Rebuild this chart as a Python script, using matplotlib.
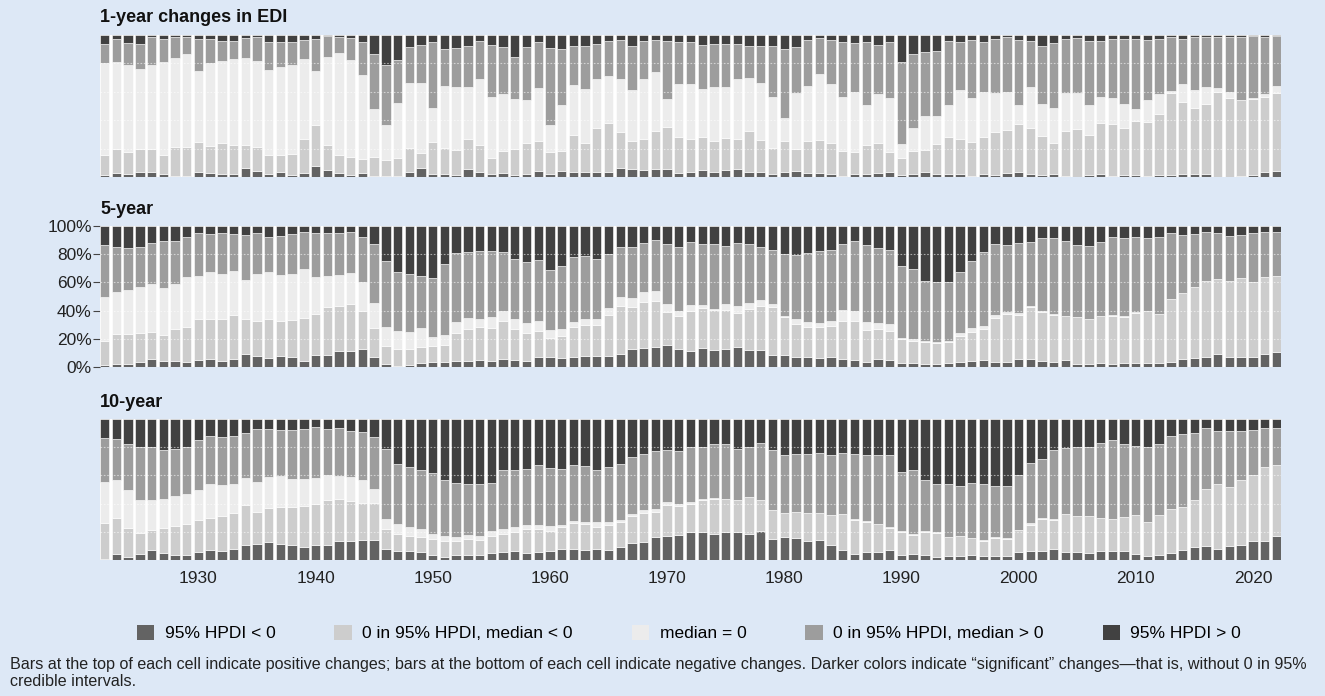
import numpy as np
import matplotlib
matplotlib.use("Agg")
import matplotlib.pyplot as plt
import matplotlib.patches as mpatches

plt.rcParams['font.family'] = ['Liberation Sans', 'DejaVu Sans']

years = np.arange(1922, 2023)
categories = ["95% HPDI < 0", "0 in 95% HPDI, median < 0", "median = 0",
              "0 in 95% HPDI, median > 0", "95% HPDI > 0"]
colors = ["#636363", "#cdcdcd", "#ececec", "#9d9d9d", "#414141"]
panel_titles = ["1-year changes in EDI", "5-year", "10-year"]
ytick_labels = ["0%", "20%", "40%", "60%", "80%", "100%"]
footnote_lines = ["Bars at the top of each cell indicate positive changes; bars at the bottom of each cell "
                  "indicate negative changes. Darker colors indicate \u201csignificant\u201d changes\u2014that is, "
                  "without 0 in 95%",
                  "credible intervals."]

# Upper edges (in %) of each stacked class, per year 1922-2022
# ---- 1-year ----
y1_top_sig_neg = [1.4, 2.6, 2.1, 3.3, 3.3, 2.1, 0.9, 0.9, 3.3, 2.6, 2.1, 2.1, 6.1, 4.2, 2.1, 3.3, 1.4, 3.1, 7.7, 4.9, 2.6, 1.4, 2.6, 0.7, 0.7,
                  0.9, 3.3, 6.1, 2.1, 2.1, 1.4, 5.4, 3.3, 2.1, 2.6, 1.4, 2.1, 4.2, 2.1, 4.2, 3.3, 3.3, 3.8, 3.8, 6.6, 5.4, 4.9, 5.4, 5.4, 2.6,
                  3.3, 4.9, 3.8, 4.9, 5.6, 3.3, 3.8, 1.9, 3.3, 4.2, 2.6, 2.6, 1.9, 0.9, 1.9, 1.9, 2.6, 3.3, 1.4, 2.1, 3.8, 1.9, 2.1, 2.1, 0.9,
                  1.9, 1.4, 2.6, 3.3, 1.9, 1.4, 1.9, 0.9, 0.0, 1.4, 2.1, 0.9, 1.4, 1.4, 0.9, 1.4, 1.4, 1.9, 1.9, 1.9, 0.0, 0.0, 0.9, 1.4, 3.3, 4.5]
y1_top_neg = [15.5, 19.7, 17.8, 19.7, 19.5, 15.5, 21.4, 21.4, 24.4, 21.8, 24.2, 22.5, 22.5, 20.9, 15.5, 15.5, 16.2, 26.8, 36.6, 22.5, 15.5, 14.3, 12.7, 13.8, 12.0,
              13.1, 20.7, 17.1, 24.9, 20.2, 19.0, 26.8, 22.5, 13.6, 18.5, 20.0, 24.2, 25.4, 17.8, 18.5, 29.6, 24.2, 34.7, 37.8, 31.9, 25.6, 27.0, 32.6, 35.4, 27.9,
              26.5, 28.4, 25.6, 27.7, 26.5, 32.4, 26.1, 20.7, 25.4, 19.5, 25.6, 26.1, 23.7, 18.5, 17.4, 22.5, 23.7, 17.8, 13.6, 18.5, 19.0, 23.0, 28.4, 26.8, 24.4,
              27.9, 31.9, 33.1, 37.3, 34.3, 28.9, 23.7, 32.6, 33.6, 29.6, 38.3, 37.3, 34.7, 39.4, 38.5, 44.4, 58.9, 53.1, 48.4, 51.4, 60.1, 55.4, 54.2, 54.7, 56.6, 59.4]
y1_top_zero = [80.0, 80.8, 78.9, 75.8, 78.9, 81.2, 84.0, 86.4, 74.9, 80.5, 81.9, 83.1, 83.8, 81.9, 75.4, 77.2, 78.9, 83.1, 74.6, 84.3, 87.1, 82.4, 71.8, 47.9, 36.6,
               52.3, 66.0, 66.0, 48.8, 64.3, 63.6, 63.1, 69.0, 56.6, 58.2, 54.9, 54.2, 62.4, 36.6, 50.7, 64.8, 62.0, 69.0, 71.1, 69.0, 61.3, 69.0, 73.7, 54.9, 65.3,
               65.5, 61.7, 63.6, 63.1, 69.0, 69.5, 66.4, 56.6, 41.3, 59.4, 64.3, 72.3, 65.5, 56.6, 59.6, 50.7, 58.2, 55.4, 23.2, 34.7, 43.2, 43.0, 50.7, 61.3, 55.4,
               59.6, 58.9, 60.1, 50.7, 63.6, 51.4, 48.4, 59.4, 58.9, 50.7, 56.1, 55.4, 51.4, 47.7, 54.2, 58.2, 60.6, 65.5, 61.3, 63.6, 62.4, 59.6, 54.2, 55.9, 58.5, 64.1]
y1_top_pos = [93.7, 96.9, 94.1, 93.7, 98.4, 96.9, 98.8, 98.8, 96.9, 96.9, 95.8, 95.8, 97.7, 98.4, 95.3, 95.3, 95.3, 96.5, 96.9, 99.5, 98.8, 97.7, 94.8, 86.4, 78.9,
              82.4, 91.8, 93.0, 95.3, 89.9, 90.6, 92.3, 96.0, 93.0, 91.8, 84.7, 91.3, 95.3, 90.6, 89.9, 92.3, 92.3, 93.4, 95.8, 96.5, 92.5, 95.8, 96.5, 95.8, 95.3,
              95.3, 93.0, 93.7, 93.7, 93.7, 92.3, 92.3, 92.3, 90.1, 91.3, 96.5, 98.1, 96.5, 94.8, 94.6, 95.3, 93.0, 95.3, 80.8, 86.4, 88.3, 89.0, 95.8, 94.8, 96.5,
              94.8, 96.9, 98.4, 96.5, 95.8, 92.5, 94.6, 96.9, 97.7, 95.8, 95.8, 96.9, 96.9, 97.2, 96.5, 96.9, 98.8, 96.9, 98.8, 98.8, 98.4, 98.8, 98.8, 99.3, 98.8, 99.3]

# ---- 5-year ----
y5_top_sig_neg = [1.4, 1.9, 1.9, 3.3, 5.4, 4.5, 4.5, 3.8, 5.0, 5.7, 4.5, 5.7, 9.2, 7.8, 6.6, 7.8, 7.1, 4.5, 8.7, 8.7, 11.6, 11.6, 12.5, 6.9, 2.1,
                  0.7, 1.4, 2.6, 3.3, 3.3, 4.5, 4.5, 5.0, 4.5, 5.7, 5.0, 4.5, 7.3, 6.9, 6.1, 6.9, 8.0, 8.0, 8.0, 9.2, 12.5, 13.7, 14.4, 15.6, 12.8,
                  11.3, 13.7, 12.1, 12.8, 13.9, 12.1, 12.1, 8.7, 8.7, 7.3, 6.9, 6.4, 6.9, 5.7, 5.0, 3.3, 5.7, 5.0, 2.6, 2.6, 1.9, 1.9, 2.6, 3.3, 4.5,
                  5.0, 3.8, 3.8, 5.4, 5.4, 4.3, 3.3, 5.0, 2.1, 2.1, 3.1, 2.1, 2.6, 3.1, 3.1, 3.1, 3.8, 5.4, 6.6, 7.3, 9.2, 7.3, 7.3, 7.3, 9.2, 10.4]
y5_top_neg = [18.7, 23.4, 23.2, 23.9, 25.1, 22.7, 26.7, 28.6, 34.0, 34.0, 34.0, 36.9, 33.8, 32.9, 34.0, 32.6, 33.3, 35.0, 37.4, 42.3, 43.5, 44.7, 39.7, 27.4, 15.1,
              12.5, 12.5, 14.4, 15.1, 15.6, 24.3, 27.0, 28.6, 27.9, 32.6, 26.7, 24.3, 25.5, 20.8, 22.0, 28.6, 29.6, 29.6, 36.9, 43.5, 42.3, 45.9, 47.0, 39.2, 36.4,
              40.0, 41.6, 40.4, 40.4, 38.5, 41.1, 43.3, 42.3, 35.7, 30.5, 28.1, 28.1, 29.1, 32.6, 32.6, 26.2, 27.0, 25.5, 19.6, 18.7, 17.5, 16.8, 18.0, 22.2, 25.1,
              26.7, 34.5, 37.6, 36.9, 42.8, 38.8, 36.9, 36.2, 35.2, 34.0, 36.4, 36.4, 35.7, 38.5, 40.0, 37.6, 48.0, 52.7, 57.0, 61.0, 62.4, 61.2, 63.4, 60.5, 64.1, 64.8]
y5_top_zero = [49.4, 53.4, 54.6, 57.0, 58.6, 55.8, 58.9, 63.6, 64.8, 67.6, 66.0, 68.1, 61.7, 66.0, 67.6, 65.2, 66.0, 69.5, 63.6, 64.8, 65.2, 66.9, 60.0, 45.2, 28.1,
               25.8, 24.6, 27.4, 21.5, 22.7, 31.7, 34.5, 33.8, 35.7, 40.0, 34.3, 31.0, 32.9, 26.2, 26.7, 32.2, 34.0, 34.0, 41.6, 49.9, 48.7, 53.0, 54.1, 44.4, 40.0,
               44.0, 44.0, 40.9, 44.4, 43.5, 45.2, 47.5, 44.4, 36.4, 34.0, 31.7, 31.0, 32.6, 40.4, 40.0, 32.2, 31.4, 30.5, 20.3, 19.9, 18.7, 18.0, 18.7, 23.9, 27.4,
               29.3, 36.9, 38.8, 38.5, 43.5, 39.7, 37.4, 36.2, 35.2, 34.0, 36.4, 36.9, 36.4, 38.8, 40.0, 37.6, 48.0, 52.7, 57.0, 61.0, 62.4, 61.2, 63.4, 60.5, 64.1, 64.8]
y5_top_pos = [86.5, 84.9, 84.2, 85.3, 88.2, 89.4, 89.4, 92.4, 94.8, 94.3, 95.3, 94.3, 93.6, 95.3, 92.4, 93.1, 94.3, 95.7, 94.8, 94.8, 95.3, 95.5, 92.4, 87.2, 75.2,
              67.1, 66.0, 64.8, 62.9, 72.8, 80.6, 81.8, 82.5, 82.3, 81.3, 76.4, 74.2, 75.9, 68.8, 71.6, 78.3, 79.0, 76.4, 80.1, 85.3, 85.3, 88.2, 90.1, 87.2, 85.3,
              88.9, 87.2, 87.2, 85.8, 87.7, 87.0, 84.9, 83.0, 80.1, 79.4, 81.1, 82.3, 83.0, 87.0, 89.4, 86.5, 84.2, 83.0, 71.6, 69.5, 61.0, 60.0, 60.0, 67.6, 75.4,
              81.3, 87.2, 86.5, 87.7, 88.4, 91.3, 91.3, 89.6, 86.5, 85.8, 88.4, 92.0, 91.3, 92.0, 91.3, 92.0, 94.8, 93.6, 94.3, 95.5, 94.8, 93.1, 93.6, 94.8, 95.5, 96.0]

# ---- 10-year ----
y10_top_sig_neg = [0.9, 4.3, 2.1, 4.3, 7.1, 5.0, 3.8, 3.8, 5.7, 7.3, 6.6, 7.8, 10.9, 11.6, 12.5, 11.6, 10.9, 9.2, 10.9, 10.9, 13.2, 13.7, 14.4, 14.4, 7.8,
                   6.1, 6.1, 5.4, 3.3, 1.9, 3.3, 3.8, 3.8, 5.0, 5.7, 6.6, 5.0, 5.7, 6.6, 7.8, 8.0, 7.3, 8.0, 7.3, 9.0, 12.1, 12.8, 16.3, 17.3, 18.0,
                   19.9, 19.9, 18.7, 19.6, 19.9, 18.4, 20.3, 15.1, 16.1, 15.6, 13.2, 13.9, 10.4, 7.3, 4.5, 5.4, 5.4, 6.9, 3.3, 4.3, 3.3, 1.9, 2.6, 2.6, 3.3,
                   2.6, 2.6, 2.6, 5.7, 6.6, 6.6, 7.8, 5.4, 5.4, 5.0, 6.1, 6.1, 6.1, 4.3, 3.1, 3.8, 5.0, 7.3, 9.0, 10.2, 7.8, 9.7, 10.9, 13.7, 13.7, 17.3]
y10_top_neg = [26.2, 29.8, 22.7, 19.1, 21.0, 22.7, 24.3, 25.8, 28.6, 29.8, 31.0, 33.3, 39.2, 34.0, 36.9, 37.6, 37.6, 38.1, 39.7, 42.3, 43.3, 41.6, 40.4, 40.4, 22.0,
               18.4, 17.3, 16.1, 15.1, 13.7, 13.2, 15.1, 14.4, 17.3, 18.7, 19.9, 22.0, 22.0, 20.3, 23.4, 26.2, 25.5, 23.4, 25.1, 26.7, 31.0, 33.3, 34.0, 39.2, 38.5,
               40.0, 42.8, 43.5, 43.3, 42.3, 44.7, 42.3, 35.7, 33.3, 34.0, 33.3, 33.3, 32.2, 32.6, 28.6, 27.0, 25.5, 22.7, 19.9, 18.0, 19.9, 19.1, 16.3, 17.3, 15.6,
               13.7, 15.6, 14.9, 21.0, 25.1, 29.1, 28.6, 32.6, 31.0, 31.0, 29.8, 29.1, 30.5, 32.2, 26.7, 32.2, 36.4, 37.6, 42.3, 50.6, 53.9, 51.8, 56.5, 60.5, 66.0, 67.6]
y10_top_zero = [55.3, 57.0, 49.4, 42.3, 42.3, 43.3, 45.6, 46.8, 49.9, 53.9, 53.0, 53.9, 58.2, 55.3, 58.9, 59.3, 57.4, 57.4, 58.2, 60.0, 59.8, 58.9, 57.0, 50.4, 29.1,
                25.5, 23.4, 22.2, 18.7, 16.8, 16.3, 18.0, 17.3, 20.3, 22.0, 23.4, 25.1, 25.1, 23.9, 25.1, 27.4, 26.7, 26.7, 26.7, 28.1, 32.9, 35.2, 36.2, 40.9, 40.0,
                40.9, 43.3, 44.0, 43.3, 42.3, 44.7, 42.3, 35.7, 33.3, 34.0, 33.3, 33.3, 32.2, 32.6, 29.1, 27.4, 25.5, 23.2, 20.3, 18.7, 20.3, 19.9, 16.3, 17.3, 15.6,
                14.4, 16.3, 15.6, 21.5, 26.2, 29.8, 29.1, 32.6, 31.0, 31.0, 29.8, 29.1, 30.5, 32.2, 26.7, 32.2, 36.4, 37.6, 42.3, 50.6, 53.9, 51.8, 56.5, 60.5, 66.0, 67.6]
y10_top_pos = [86.5, 85.8, 82.3, 79.9, 79.9, 78.3, 79.0, 80.1, 84.9, 87.7, 87.0, 87.7, 90.1, 92.9, 92.9, 92.0, 92.0, 93.1, 94.3, 92.9, 93.6, 91.7, 90.8, 87.2, 78.7,
               68.3, 65.7, 64.1, 61.7, 56.5, 54.6, 53.9, 53.9, 54.6, 64.1, 63.6, 64.8, 67.1, 65.2, 64.5, 67.1, 66.4, 63.6, 66.0, 68.3, 73.0, 75.4, 77.1, 78.3, 77.5,
               79.9, 79.9, 82.3, 82.3, 79.0, 80.1, 83.0, 78.3, 74.2, 75.4, 75.4, 75.9, 74.7, 75.9, 75.4, 74.7, 74.7, 74.2, 62.4, 63.6, 56.5, 53.9, 53.9, 52.7, 54.6,
               53.9, 52.7, 52.2, 60.0, 68.8, 71.6, 77.8, 79.4, 79.9, 79.9, 83.0, 84.9, 82.5, 81.1, 80.1, 82.5, 87.7, 89.4, 90.1, 93.6, 91.3, 91.3, 91.7, 92.4, 93.6, 93.6]

panels = [
    (y1_top_sig_neg, y1_top_neg, y1_top_zero, y1_top_pos),
    (y5_top_sig_neg, y5_top_neg, y5_top_zero, y5_top_pos),
    (y10_top_sig_neg, y10_top_neg, y10_top_zero, y10_top_pos),
]

W, H = 1325, 696
bg = "#dde8f6"
fig = plt.figure(figsize=(W / 100, H / 100), dpi=100, facecolor=bg)

left_px, right_px = 100, 1281
panel_px = [(35, 177), (226, 367), (419, 560)]
title_y_px = [18, 210, 403]

for p, (edges, (top_px, bot_px)) in enumerate(zip(panels, panel_px)):
    ax = fig.add_axes([left_px / W, 1 - bot_px / H, (right_px - left_px) / W, (bot_px - top_px) / H])
    ax.set_facecolor("white")
    cum = np.vstack([np.zeros(len(years))] + [np.array(e, dtype=float) for e in edges] + [np.full(len(years), 100.0)])
    shares = np.diff(cum, axis=0)
    for i in range(5):
        ax.bar(years, shares[i], bottom=cum[i], width=0.8, color=colors[i],
               edgecolor="white", linewidth=0.4, zorder=2)
    for gy in [20, 40, 60, 80]:
        ax.axhline(gy, color="white", lw=0.8, ls=(0, (1.5, 1.5)), alpha=0.55, zorder=3)
    ax.set_xlim(1921.6, 2022.4)
    ax.set_ylim(0, 100)
    for s in ax.spines.values():
        s.set_visible(False)
    ax.set_xticks([1930, 1940, 1950, 1960, 1970, 1980, 1990, 2000, 2010, 2020])
    if p == 2:
        ax.tick_params(axis="x", length=0, labelsize=12.5, pad=8, labelcolor="#222222")
    else:
        ax.tick_params(axis="x", length=0, labelbottom=False)
    if p == 1:
        ax.set_yticks([0, 20, 40, 60, 80, 100])
        ax.set_yticklabels(ytick_labels)
        ax.tick_params(axis="y", length=5, width=0.8, color="#444444", labelsize=12.5,
                       pad=1, labelcolor="#222222")
    else:
        ax.set_yticks([])
    fig.text(left_px / W, 1 - title_y_px[p] / H, panel_titles[p], fontsize=13,
             fontweight="bold", ha="left", va="center", color="#111111")

handles = [mpatches.Patch(facecolor=c, edgecolor="none") for c in colors]
fig.legend(handles, categories, loc="center", bbox_to_anchor=(0.52, 1 - 633 / H), ncol=5,
           frameon=False, fontsize=12.5, handlelength=1.0, handleheight=1.0,
           handletextpad=0.6, columnspacing=3.4)

fig.text(10 / W, 1 - 664 / H, footnote_lines[0], fontsize=11.65, ha="left", va="center",
         color="#222222")
fig.text(10 / W, 1 - 681 / H, footnote_lines[1], fontsize=11.65, ha="left", va="center",
         color="#222222")

fig.savefig("out.png", dpi=100, facecolor=bg)
